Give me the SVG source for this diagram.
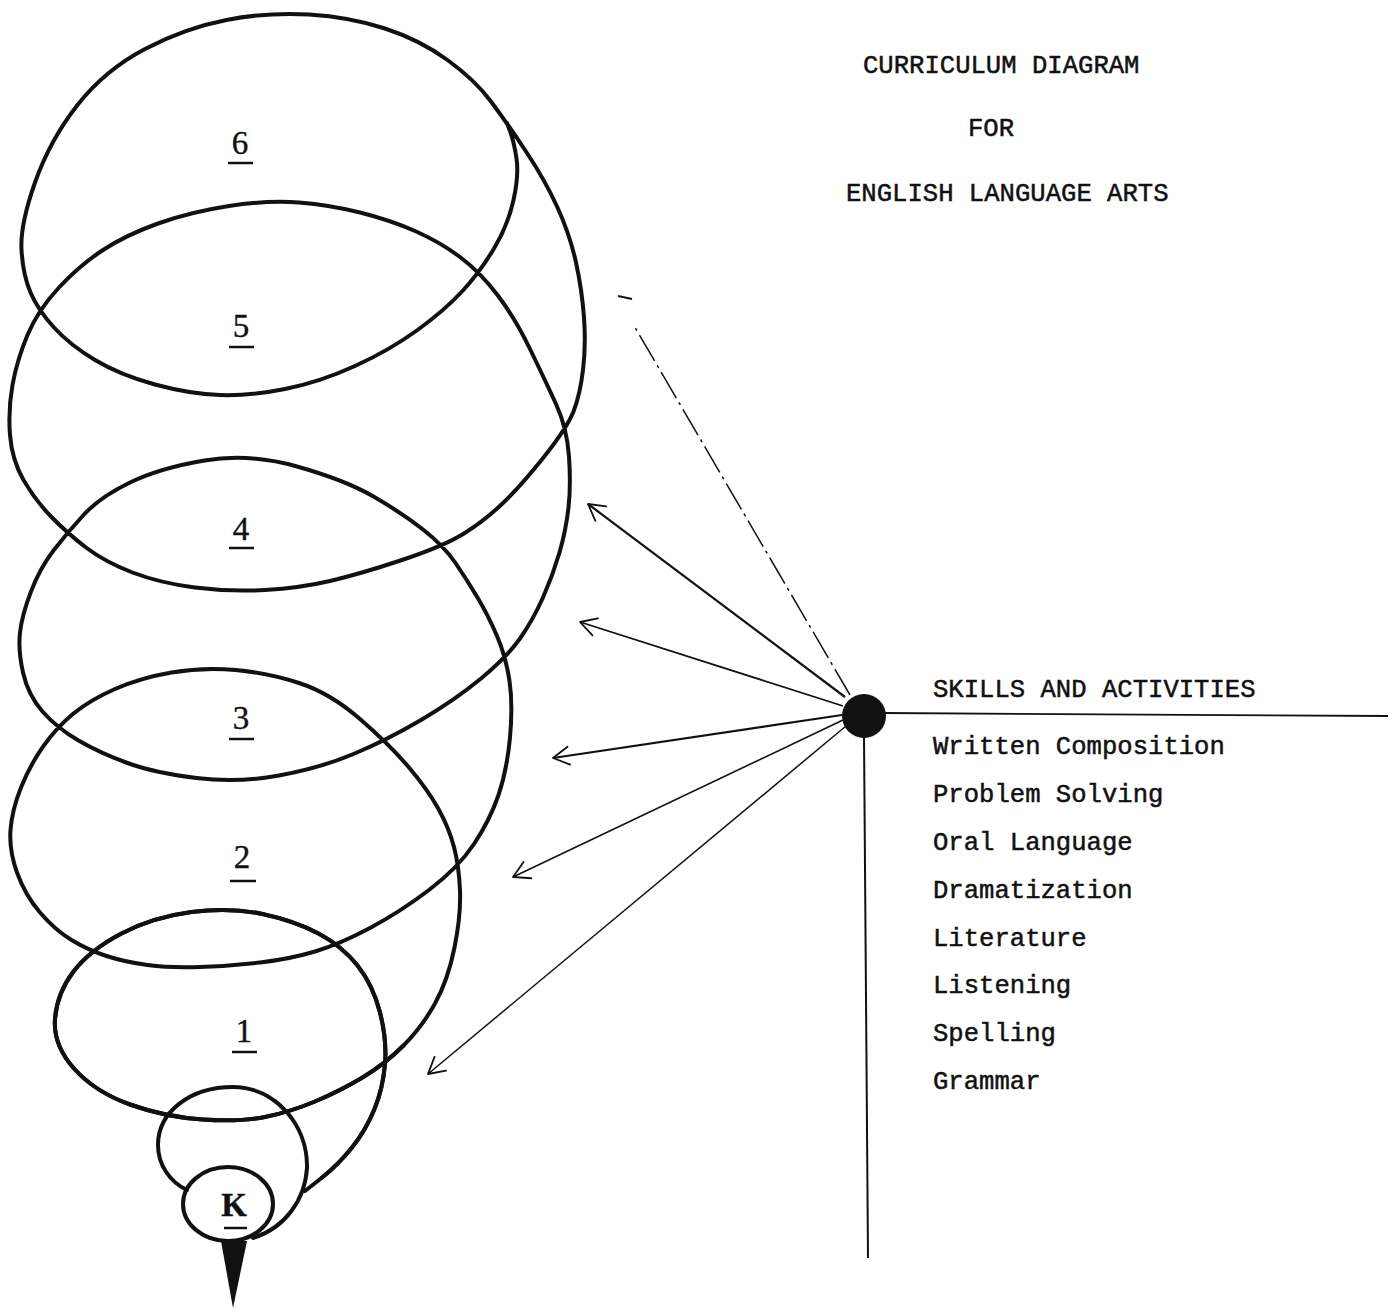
<svg xmlns="http://www.w3.org/2000/svg" width="1397" height="1313" viewBox="0 0 1397 1313">
<style>
.coil{fill:none;stroke:#111;stroke-width:4;stroke-linecap:round;stroke-linejoin:round}
.grade{font-family:"Liberation Serif","DejaVu Serif",serif;font-size:33px;fill:#111;text-anchor:middle;stroke:#111;stroke-width:0.4}
.ul{stroke:#111;stroke-width:2.5}
.tw{font-family:"Liberation Mono","DejaVu Sans Mono",monospace;font-size:25.6px;fill:#111;stroke:#111;stroke-width:0.5}
.conn{stroke:#111;fill:none;marker-end:url(#ah)}
</style>
<defs>
<marker id="ah" viewBox="-20 -12 24 24" refX="0" refY="0" markerWidth="24" markerHeight="24" markerUnits="userSpaceOnUse" orient="auto">
<path d="M -16,-9 L 0,0 L -16,9" fill="none" stroke="#111" stroke-width="1.8" stroke-linecap="round" stroke-linejoin="round"/>
</marker>
</defs>
<rect width="1397" height="1313" fill="#fff"/>

<g id="title" class="tw">
<text x="863" y="73">CURRICULUM DIAGRAM</text>
<text x="968" y="136">FOR</text>
<text x="846" y="201">ENGLISH LANGUAGE ARTS</text>
</g>

<g id="spiral">
<path class="coil" d="M 305,1191 L 321.5,1178 Q 338,1165 352,1147.5 Q 366,1130 374.5,1109 Q 383,1088 385,1064 Q 387,1040 380,1012.5 Q 373,985 357.5,965.5 Q 342,946 318.5,933.5 Q 295,921 262.5,914 Q 230,907 191.5,912 Q 153,917 121.5,933.5 Q 90,950 73.5,971.5 Q 57,993 55,1019 Q 53,1045 74,1068.5 Q 95,1092 130,1104.5 Q 165,1117 202.5,1119.5 Q 240,1122 265,1117 Q 290,1112 315,1101.5 Q 340,1091 362.5,1077.5 Q 385,1064 403.5,1045.5 Q 422,1027 435,1003.5 Q 448,980 454.5,947.5 Q 461,915 460,890.5 Q 459,866 454,847 Q 449,828 438.5,809 Q 428,790 409,767.5 Q 390,745 360,719 Q 330,693 299,683 Q 268,673 235.5,670 Q 203,667 171.5,672.5 Q 140,678 115,689 Q 90,700 73.5,713.5 Q 57,727 43.5,746 Q 30,765 21,787.5 Q 12,810 10.5,830 Q 9,850 17,872.5 Q 25,895 40,912.5 Q 55,930 71.5,940 Q 88,950 106.5,956 Q 125,962 147.5,965 Q 170,968 200,967 Q 230,966 260,962.5 Q 290,959 315,951.5 Q 340,944 370,928 Q 400,912 429,890 Q 458,868 474,844 Q 490,820 498.5,795 Q 507,770 510,737.5 Q 513,705 509.5,681 Q 506,657 497,636 Q 488,615 477.5,597.5 Q 467,580 455.5,563 Q 444,546 423,529.5 Q 402,513 373.5,496.5 Q 345,480 297,466.5 Q 249,453 204.5,460.5 Q 160,468 130,482.5 Q 100,497 83.5,515 Q 67,533 53.5,550.5 Q 40,568 31,591.5 Q 22,615 20,632.5 Q 18,650 23,672.5 Q 28,695 42.5,711.5 Q 57,728 78.5,740.5 Q 100,753 127.5,763 Q 155,773 196.5,778 Q 238,783 279,775.5 Q 320,768 353.5,754 Q 387,740 421,720 Q 455,700 481,678.5 Q 507,657 520,638.5 Q 533,620 543,597.5 Q 553,575 559.5,552.5 Q 566,530 568.5,507.5 Q 571,485 569,456.5 Q 567,428 556,404 Q 545,380 530,349 Q 515,318 497.5,295 Q 480,272 460,257 Q 440,242 415,231 Q 390,220 360,212.5 Q 330,205 299,202.5 Q 268,200 229,206 Q 190,212 158,223.5 Q 126,235 103,250 Q 80,265 59,287.5 Q 38,310 27.5,335 Q 17,360 12.5,385 Q 8,410 10,435 Q 12,460 23.5,480 Q 35,500 51,516.5 Q 67,533 86,547.5 Q 105,562 132.5,572.5 Q 160,583 195,587.5 Q 230,592 265,590 Q 300,588 330,581 Q 360,574 402,560 Q 444,546 464,533.5 Q 484,521 502,504 Q 520,487 543.5,457.5 Q 567,428 573.5,411.5 Q 580,395 583,370 Q 586,345 584,317.5 Q 582,290 576,262.5 Q 570,235 557.5,207.5 Q 545,180 526,151.5 Q 507,123 491,101.5 Q 475,80 447.5,60 Q 420,40 385,28.5 Q 350,17 309,14.5 Q 268,12 226.5,20 Q 185,28 145,49 Q 105,70 77.5,105 Q 50,140 35,182.5 Q 20,225 21.5,250 Q 23,275 30.5,292.5 Q 38,310 54,327.5 Q 70,345 95,360 Q 120,375 155,384.5 Q 190,394 220,395 Q 250,396 285,389 Q 320,382 355,366 Q 390,350 417.5,330 Q 445,310 462.5,291 Q 480,272 494,248.5 Q 508,225 513.5,200 Q 519,175 516.5,158.5 Q 514,142 510.5,132.5 L 507,123"/>
<path class="coil" stroke-width="5.5" d="M 321.5,1178 Q 338,1165 352,1147.5 Q 366,1130 374.5,1109 Q 383,1088 385,1064 Q 387,1040 380,1012.5 Q 373,985 357.5,965.5 Q 342,946 318.5,933.5 Q 295,921 262.5,914 Q 230,907 191.5,912 Q 153,917 121.5,933.5 Q 90,950 73.5,971.5 Q 57,993 55,1019 Q 53,1045 74,1068.5 Q 95,1092 130,1104.5 Q 165,1117 202.5,1119.5 Q 240,1122 265,1117 Q 290,1112 315,1101.5 Q 340,1091 362.5,1077.5 Q 385,1064 403.5,1045.5"/>
<path class="coil" d="M 253,1238 C 285,1228 305,1200 307,1168 C 308,1125 275,1087 233,1087 C 190,1087 158,1112 158,1145 C 158,1165 170,1182 187,1190"/>
<ellipse class="coil" cx="228" cy="1204" rx="45" ry="37"/>
<path d="M 221,1241 L 247,1241 L 233,1308 Z" fill="#111"/>
</g>

<g id="grade-labels">
<g id="grade-6"><text class="grade" x="240" y="154">6</text><line class="ul" x1="228" y1="163" x2="253" y2="163"/></g>
<g id="grade-5"><text class="grade" x="241" y="337">5</text><line class="ul" x1="229" y1="347" x2="254" y2="347"/></g>
<g id="grade-4"><text class="grade" x="241" y="540">4</text><line class="ul" x1="229" y1="548" x2="254" y2="548"/></g>
<g id="grade-3"><text class="grade" x="241" y="729">3</text><line class="ul" x1="229" y1="739" x2="254" y2="739"/></g>
<g id="grade-2"><text class="grade" x="242" y="868">2</text><line class="ul" x1="230" y1="881" x2="256" y2="881"/></g>
<g id="grade-1"><text class="grade" x="244" y="1042">1</text><line class="ul" x1="232" y1="1052" x2="257" y2="1052"/></g>
<g id="grade-K"><text class="grade" x="234" y="1216" font-size="34" font-weight="bold">K</text><line class="ul" x1="224" y1="1228" x2="247" y2="1228"/></g>
</g>

<g id="hub">
<circle cx="864" cy="716" r="22" fill="#111"/>
<line x1="884" y1="713" x2="1388" y2="716" stroke="#111" stroke-width="1.8"/>
<line x1="864" y1="736" x2="868" y2="1258" stroke="#111" stroke-width="2"/>
</g>

<g id="skills" class="tw">
<text x="933" y="697">SKILLS AND ACTIVITIES</text>
<text x="933" y="754">Written Composition</text>
<text x="933" y="802">Problem Solving</text>
<text x="933" y="850">Oral Language</text>
<text x="933" y="898">Dramatization</text>
<text x="933" y="946">Literature</text>
<text x="933" y="993">Listening</text>
<text x="933" y="1041">Spelling</text>
<text x="933" y="1089">Grammar</text>
</g>

<g id="connectors">
<line x1="850" y1="695" x2="633" y2="324" stroke="#111" stroke-width="1.5" stroke-dasharray="30 5 3 5"/>
<path d="M 618,296 L 632,299" stroke="#111" stroke-width="2" fill="none"/>
<line class="conn" x1="845" y1="697" x2="588" y2="504" stroke-width="2.2"/>
<line class="conn" x1="843" y1="706" x2="580" y2="622" stroke-width="1.8"/>
<line class="conn" x1="842" y1="715" x2="553" y2="758" stroke-width="2.2"/>
<line class="conn" x1="843" y1="720" x2="513" y2="877" stroke-width="1.6"/>
<line class="conn" x1="846" y1="726" x2="428" y2="1074" stroke-width="1.5"/>
</g>
</svg>
